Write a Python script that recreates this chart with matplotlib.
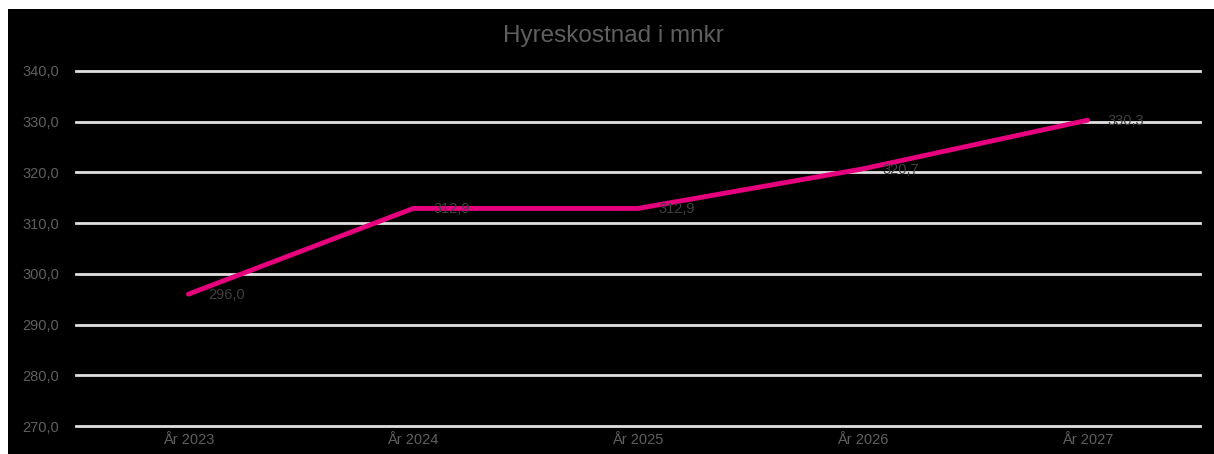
import matplotlib
matplotlib.use("Agg")
import matplotlib.pyplot as plt
from matplotlib.patches import Rectangle

categories = ["År 2023", "År 2024", "År 2025", "År 2026", "År 2027"]
values = [296.0, 312.9, 312.9, 320.7, 330.3]
yticks = [270, 280, 290, 300, 310, 320, 330, 340]

plt.rcParams['font.family'] = ['Liberation Sans', 'DejaVu Sans']
W, H = 1214, 454
fig = plt.figure(figsize=(W / 100, H / 100), dpi=100, facecolor="white")
fig.patches.append(Rectangle((8 / W, 0), 1 - 8 / W, 1 - 9 / H, transform=fig.transFigure,
                             facecolor="black", edgecolor="none", zorder=-10))

ax = fig.add_axes([76 / W, 1 - 426 / H, (1200 - 76) / W, (426 - 71) / H])
ax.set_zorder(5)
ax.patch.set_alpha(0)
x = list(range(len(categories)))
ax.set_xlim(-0.5, len(categories) - 0.5)
ax.set_ylim(270, 340)
ax.set_yticks(yticks)
ax.set_yticklabels([f"{v:.1f}".replace(".", ",") for v in yticks])
ax.set_xticks(x)
ax.set_xticklabels(categories)
ax.grid(axis="y", color="#e0e0e0", linewidth=2)
for gl in ax.get_ygridlines():
    gl.set_clip_on(False)
ax.set_axisbelow(True)
for s in ax.spines.values():
    s.set_visible(False)
ax.tick_params(axis="both", length=0, colors="#5f5f5f", labelsize=10.5)
ax.tick_params(axis="y", pad=12)
ax.tick_params(axis="x", pad=5)

ax.plot(x, values, color="#e6007e", linewidth=3.5, solid_capstyle="round", zorder=3)
for xi, v in zip(x, values):
    ax.annotate(f"{v:.1f}".replace(".", ","), (xi, v), xytext=(20, -1), textcoords="offset pixels",
                ha="left", va="center", color="#404040", fontsize=10.5, zorder=4)

fig.text(613 / W, 1 - 36 / H, "Hyreskostnad i mnkr", ha="center", va="center",
         color="#5f5f5f", fontsize=17.5)

fig.savefig("out.png", dpi=100, facecolor="white")
